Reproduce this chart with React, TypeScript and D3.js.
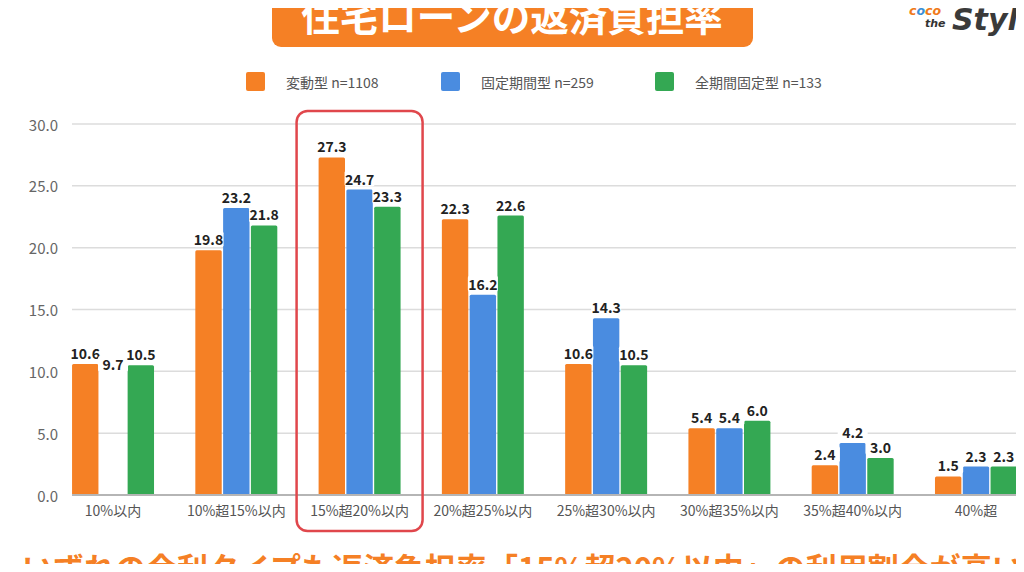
import React from "react";
import * as d3 from "d3";

const categories = ["10%以内", "10%超15%以内", "15%超20%以内", "20%超25%以内", "25%超30%以内", "30%超35%以内", "35%超40%以内", "40%超"];
const seriesNames = ["変動型 n=1108", "固定期間型 n=259", "全期間固定型 n=133"];
const seriesColors = ["#f58025", "#4a8ce0", "#34a853"];
const variable = [10.6, 19.8, 27.3, 22.3, 10.6, 5.4, 2.4, 1.5];
const fixedPeriod = [9.7, 23.2, 24.7, 16.2, 14.3, 5.4, 4.2, 2.3];
const fullFixed = [10.5, 21.8, 23.3, 22.6, 10.5, 6.0, 3.0, 2.3];
const seriesValues = [variable, fixedPeriod, fullFixed];
// bars missing in the reference picture (category index, series index)
const hiddenBars: [number, number][] = [[0, 1]];
const yTicks = [0, 5, 10, 15, 20, 25, 30];
const highlightCategory = "15%超20%以内";
const titleText = "住宅ローンの返済負担率";
const footerText = "いずれの金利タイプも返済負担率「15%超20%以内」の利用割合が高い";

const FONT = "'Noto Sans CJK JP', 'Noto Sans', sans-serif";

export default function App() {
  const W = 1024;
  const H = 572;
  const x = d3
    .scaleBand<string>()
    .domain(categories)
    .range([51.4, 1037.6])
    .paddingInner(0.335)
    .paddingOuter(0.1675);
  const xs = d3
    .scaleBand<number>()
    .domain([0, 1, 2])
    .range([0, x.bandwidth()])
    .paddingInner(0.05);
  const y = d3.scaleLinear().domain([0, 30]).range([495, 124]);

  const bars: any[] = [];
  const labels: any[] = [];
  categories.forEach((c, ci) => {
    seriesValues.forEach((vals, si) => {
      const v = vals[ci];
      const bx = (x(c) as number) + (xs(si) as number);
      const bw = xs.bandwidth();
      const hidden = hiddenBars.some(([a, b]) => a === ci && b === si);
      if (!hidden) {
        bars.push(
          <rect key={`b${ci}-${si}`} x={bx} y={y(v)} width={bw} height={y(0) - y(v)} fill={seriesColors[si]} rx={1.5} />
        );
      }
      labels.push({ key: `l${ci}-${si}`, cx: bx + bw / 2, cy: y(v) - 11, text: v.toFixed(1) });
    });
  });

  const hx = x(highlightCategory) as number;
  const hc = hx + x.bandwidth() / 2;

  const legendX = [246, 441, 655];

  return (
    <div style={{ margin: -8, width: W, height: H, overflow: "hidden", background: "#fff" }}>
      <svg width={W} height={H} style={{ display: "block", fontFamily: FONT }}>
        <rect x={0} y={0} width={W} height={H} fill="#fff" />
        {/* title */}
        <rect x={272} y={-20} width={481} height={67} rx={9} fill="#f58025" />
        <text x={512} y={31} textAnchor="middle" fontSize={38.5} fontWeight={700} fill="#fff">
          {titleText}
        </text>
        {/* logo */}
        <g fontFamily="'DejaVu Sans', sans-serif" fontStyle="italic" fontWeight={700}>
          <text x={909} y={15} fontSize={12.5}>
            <tspan fill="#f07a1a">c</tspan>
            <tspan fill="#3a8fd8">o</tspan>
            <tspan fill="#f07a1a">c</tspan>
            <tspan fill="#f07a1a">o</tspan>
          </text>
          <text x={925} y={27} fontSize={11} fill="#333">the</text>
          <text x={952} y={30} fontSize={30} fill="#3a3a3a">Styl</text>
        </g>
        {/* legend */}
        {seriesNames.map((n, i) => (
          <g key={n}>
            <rect x={legendX[i]} y={72} width={19} height={19} rx={2} fill={seriesColors[i]} />
            <text x={legendX[i] + 40} y={81.5} dominantBaseline="central" fontSize={14} fill="#555">
              {n}
            </text>
          </g>
        ))}
        {/* grid */}
        {yTicks.map((t) => (
          <g key={t}>
            {t > 0 && <line x1={72} x2={W} y1={y(t)} y2={y(t)} stroke="#dcdcdc" strokeWidth={1.5} />}
            <text x={58} y={y(t)} textAnchor="end" dominantBaseline="central" fontSize={15} fill="#666">
              {t.toFixed(1)}
            </text>
          </g>
        ))}
        {bars}
        <line x1={72} x2={W} y1={y(0)} y2={y(0)} stroke="#b5b5b5" strokeWidth={2} />
        {/* value labels */}
        {labels.map((l) => (
          <g key={l.key}>
            <rect x={l.cx - 15} y={l.cy - 8} width={30} height={16} fill="#fff" rx={2} />
            <text x={l.cx} y={l.cy} textAnchor="middle" dominantBaseline="central" fontSize={14} fontWeight={600} fill="#222">
              {l.text}
            </text>
          </g>
        ))}
        {/* x labels */}
        {categories.map((c) => (
          <text key={c} x={(x(c) as number) + x.bandwidth() / 2} y={510} textAnchor="middle" dominantBaseline="central" fontSize={14} fill="#555">
            {c}
          </text>
        ))}
        {/* highlight box */}
        <rect x={hc - 63} y={111} width={126} height={420} rx={11} fill="none" stroke="#e0474c" strokeWidth={2.5} />
        {/* footer */}
        <text x={22} y={580} fontSize={31} fontWeight={700} fill="#f58025">
          {footerText}
        </text>
      </svg>
    </div>
  );
}
